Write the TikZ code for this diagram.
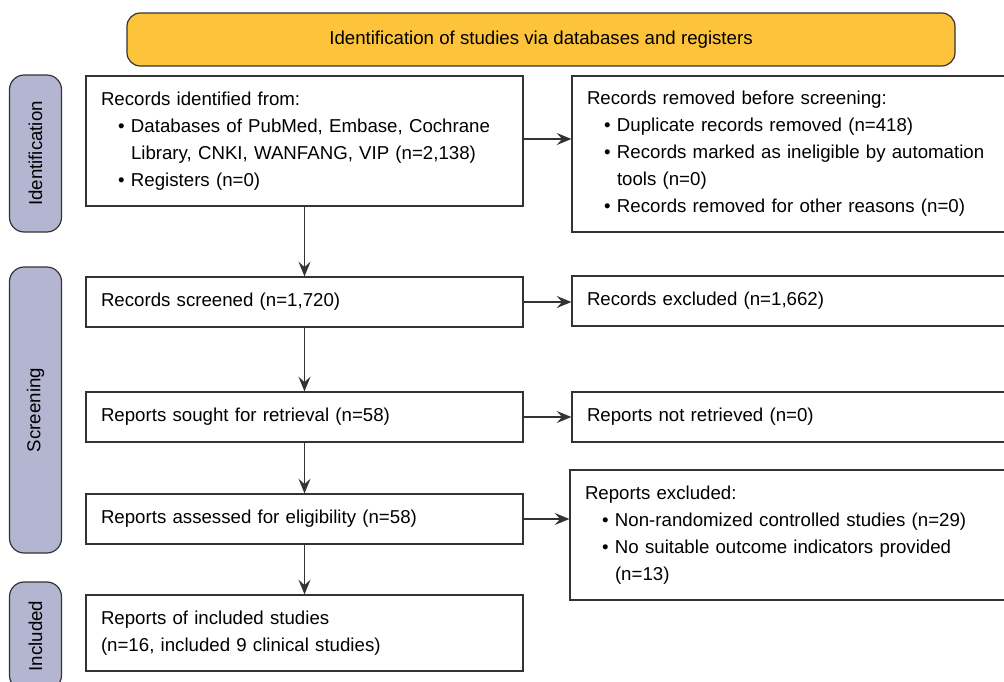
\documentclass[tikz,border=0pt]{standalone}
\usepackage{fontspec}
\setmainfont{Liberation Sans}
\usetikzlibrary{arrows.meta,calc}
\setlength{\parindent}{0pt}
\definecolor{linegray}{RGB}{51,51,51}
\definecolor{bannerfill}{RGB}{253,195,59}
\definecolor{sidefill}{RGB}{180,181,208}
\newcommand{\pitem}{\par\hangindent=22.5pt\hangafter=1\noindent\makebox[22.5pt][l]{\hspace{12.75pt}\textbullet}}
\tikzset{
  box/.style={draw=linegray, line width=0.9pt, fill=white, inner xsep=11.25pt, inner ysep=0pt,
    text width=305.25pt, align=left, minimum width=327.75pt,
    font=\fontsize{14}{20.25}\selectfont},
  rbox/.style={box, text width=307.5pt, minimum width=330pt},
  sidebox/.style={draw=linegray, line width=0.9pt, fill=sidefill, rounded corners=11pt, rotate=90,
    minimum height=39pt, inner sep=0pt, font=\fontsize{14}{16}\selectfont},
  bannerbox/.style={draw=linegray, line width=0.9pt, fill=bannerfill, rounded corners=10pt,
    minimum width=621pt, minimum height=39.75pt, font=\fontsize{14}{16}\selectfont},
  arr/.style={draw=linegray, line width=1pt, -{Stealth[length=11pt,width=9pt,inset=4pt]}}
}
\begin{document}
\begin{tikzpicture}[x=0.75pt,y=0.75pt,yscale=-1,xscale=1]
\clip (0,0) rectangle (1004,682);

%Banner
\node [bannerbox] (top) at (541,39.5) {Identification of studies via databases and registers};

%Side labels
\node [sidebox, minimum width=117.75pt] (sideid) at (35.5,153.5) {Identification};
\node [sidebox, minimum width=214.5pt] (sidescr) at (35.5,410) {Screening};
\node [sidebox, minimum width=81pt] (sideinc) at (35.5,636) {Included};

%Left column
\node [box, minimum height=97.5pt] (ident) at (304.5,141) {Records identified from:
  \pitem Databases of PubMed, Embase, Cochrane\newline Library, CNKI, WANFANG, VIP (n=2,138)
  \pitem Registers (n=0)\par};
\node [box, minimum height=37.5pt] (screened) at (304.5,302) {Records screened (n=1,720)};
\node [box, minimum height=37.5pt] (sought) at (304.5,417) {Reports sought for retrieval (n=58)};
\node [box, minimum height=37.5pt] (assessed) at (304.5,519) {Reports assessed for eligibility (n=58)};
\node [box, minimum height=57pt] (included) at (304.5,633) {Reports of included studies\newline (n=16, included 9 clinical studies)};

%Right column
\node [rbox, minimum height=117pt] (removed) at (792,154) {Records removed before screening:
  \pitem Duplicate records removed (n=418)
  \pitem Records marked as ineligible by automation\newline tools (n=0)
  \pitem Records removed for other reasons (n=0)\par};
\node [rbox, minimum height=37.5pt] (excluded) at (792,301) {Records excluded (n=1,662)};
\node [rbox, minimum height=37.5pt] (notretr) at (792,417) {Reports not retrieved (n=0)};
\node [rbox, minimum height=97.5pt] (repexcl) at (790,535) {Reports excluded:
  \pitem Non-randomized controlled studies (n=29)
  \pitem No suitable outcome indicators provided\newline (n=13)\par};

%Arrows down
\draw [arr] (ident) -- (screened);
\draw [arr] (screened) -- (sought);
\draw [arr] (sought) -- (assessed);
\draw [arr] (assessed) -- (included);

%Arrows right
\draw [arr] ($(ident.east)+(0,-2)$) coordinate (a1) -- (a1 -| removed.west);
\draw [arr] (screened.east) -- (screened.east -| excluded.west);
\draw [arr] (sought.east) -- (sought.east -| notretr.west);
\draw [arr] (assessed.east) -- (assessed.east -| repexcl.west);

\end{tikzpicture}
\end{document}
